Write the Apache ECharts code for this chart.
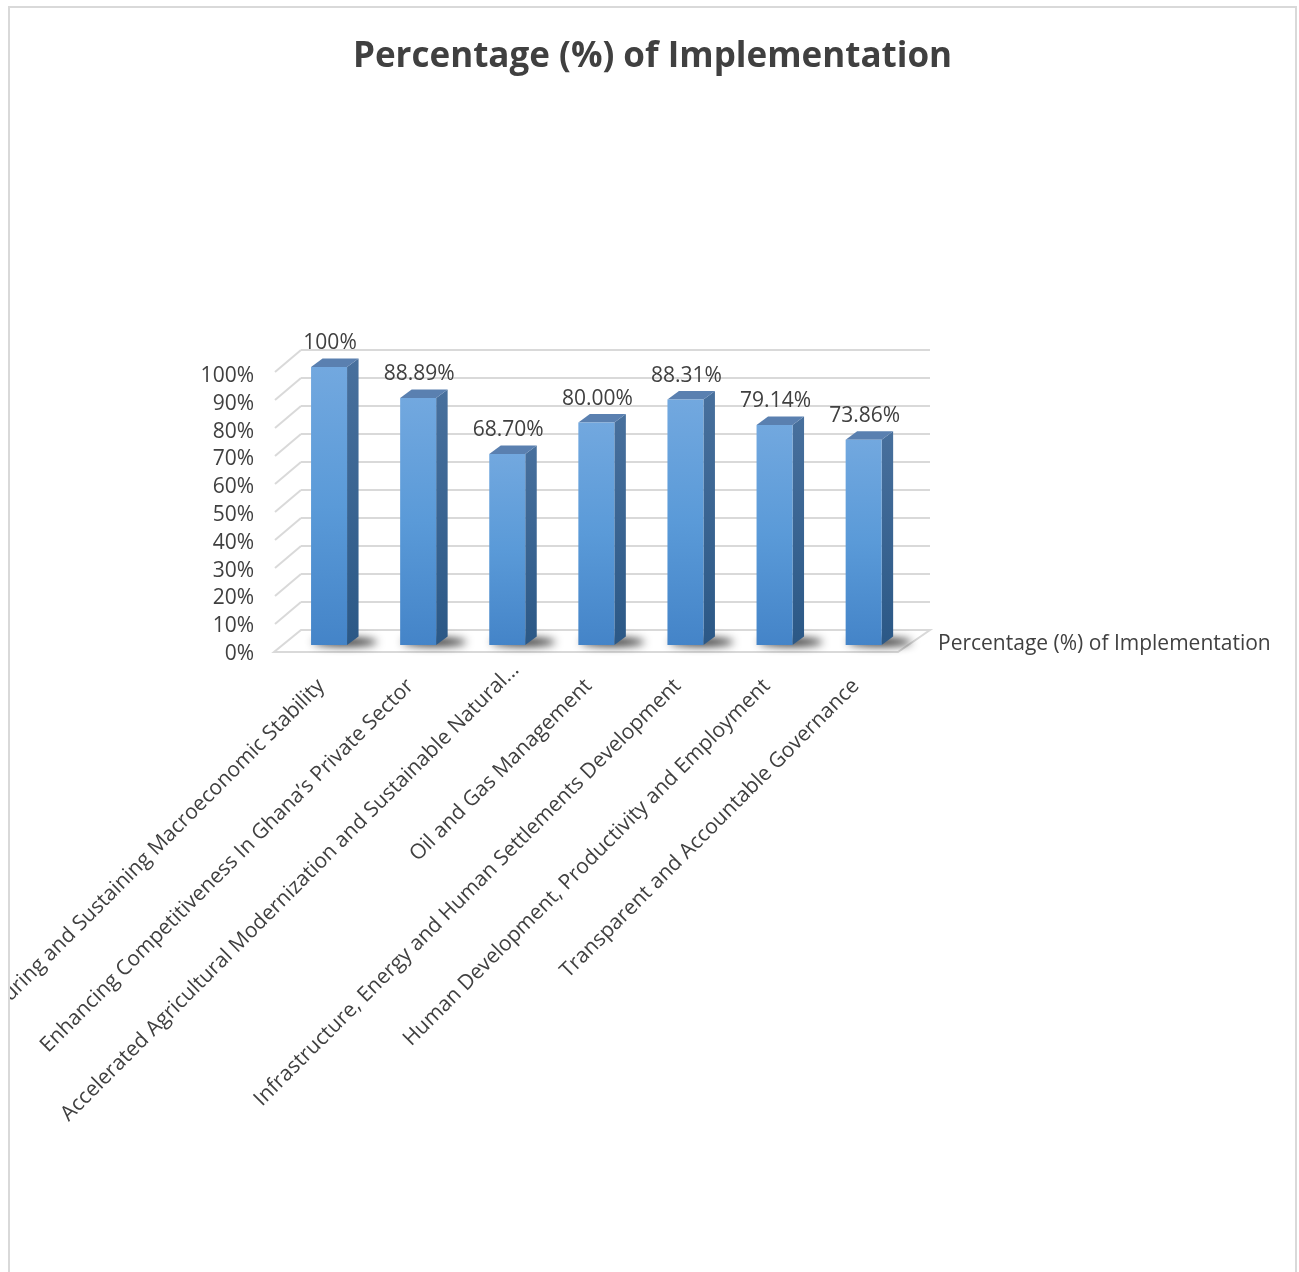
<!DOCTYPE html>
<html>
<head>
<meta charset="utf-8">
<script src="https://cdn.jsdelivr.net/npm/echarts@6/dist/echarts.min.js"></script>
<style>
html,body{margin:0;padding:0;background:#fff;overflow:hidden;}
#frame{position:absolute;left:8px;top:6px;width:1289px;height:1300px;box-sizing:border-box;border:2px solid #d9d9d9;border-bottom:none;overflow:hidden;}
#chart{width:1285px;height:1264px;}
</style>
</head>
<body>
<div id="frame"><div id="chart"></div></div>
<script>
const titleText = 'Percentage (%) of Implementation';
const seriesName = 'Percentage (%) of Implementation';
const categories = [
  'Ensuring and Sustaining Macroeconomic Stability',
  'Enhancing Competitiveness In Ghana\u2019s Private Sector',
  'Accelerated Agricultural Modernization and Sustainable Natural...',
  'Oil and Gas Management',
  'Infrastructure, Energy and Human Settlements Development',
  'Human Development, Productivity and Employment',
  'Transparent and Accountable Governance'
];
const values = [100, 88.89, 68.70, 80.00, 88.31, 79.14, 73.86];
const yTicks = [0, 10, 20, 30, 40, 50, 60, 70, 80, 90, 100];

const FONT = '"Open Sans", "Noto Sans", sans-serif';
const TXT = '#404040';
const GRID_C = '#d9d9d9';

function fmt(v) { return v === 100 ? '100%' : v.toFixed(2) + '%'; }

const frontGrad = new echarts.graphic.LinearGradient(0, 0, 0, 1, [
  {offset: 0, color: '#72a8df'}, {offset: 0.5, color: '#5a9ad8'}, {offset: 1, color: '#4484c8'}
]);
const sideGrad = new echarts.graphic.LinearGradient(0, 0, 0, 1, [
  {offset: 0, color: '#48709d'}, {offset: 1, color: '#2b5886'}
]);

const SHIFT = 3000;
function renderBar(params, api) {
  const i = api.value(0), v = api.value(1);
  const b = api.coord([i, 0]), t = api.coord([i, v]);
  const bw = api.size([1, 0])[0] * 0.404;
  const x0 = b[0] - bw / 2, x1 = b[0] + bw / 2;
  const dx = 11.5, dy = -8.5;
  return {
    type: 'group',
    children: [
      {type: 'ellipse', shape: {cx: x1 - 2 - SHIFT, cy: b[1] - 3, rx: bw / 2 + 14, ry: 4},
       style: {fill: '#000', shadowBlur: 9, shadowOffsetX: SHIFT, shadowColor: 'rgba(0,0,0,0.85)'}},
      {type: 'polygon', shape: {points: [[x1, t[1]], [x1 + dx, t[1] + dy], [x1 + dx, b[1] + dy], [x1, b[1]]]},
       style: {fill: sideGrad}},
      {type: 'polygon', shape: {points: [[x0, t[1]], [x0 + dx, t[1] + dy], [x1 + dx, t[1] + dy], [x1, t[1]]]},
       style: {fill: '#5a80b0'}},
      {type: 'rect', shape: {x: x0, y: t[1], width: bw, height: b[1] - t[1]},
       style: {fill: frontGrad}},
      {type: 'text', style: {text: fmt(v), x: b[0] + 1, y: t[1] - 13, align: 'center', verticalAlign: 'bottom',
       font: '21px ' + FONT, fill: TXT}}
    ]
  };
}

function renderWall(params, api) {
  const v = api.value(1);
  const p = api.coord([0, v]);
  if (v === 0) {
    const r = api.coord([1, 0]);
    return {type: 'polygon', shape: {points: [p, r, [r[0] - 32, r[1] + 22], [p[0] - 27, p[1] + 22]]},
      style: {fill: '#fff', stroke: GRID_C, lineWidth: 2}};
  }
  return {type: 'line', shape: {x1: p[0], y1: p[1], x2: p[0] - 26, y2: p[1] + 22},
    style: {stroke: GRID_C, lineWidth: 2}};
}

// the truncated (ellipsis) label sits a little higher, as in the original
const categoryData = categories.map(c => /\.\.\.$/.test(c)
  ? {value: c, textStyle: {padding: [0, -12, 25, 0]}}
  : c);

const gridBase = {containLabel: false, outerBoundsMode: 'none'};
const chart = echarts.init(document.getElementById('chart'), null, {renderer: 'canvas'});
chart.setOption({
  animation: false,
  backgroundColor: '#fff',
  title: {
    text: titleText, left: 'center', top: 27,
    textStyle: {fontFamily: FONT, fontSize: 35, fontWeight: 'bold', color: TXT}
  },
  legend: {
    data: [{name: seriesName, icon: 'rect'}],
    left: 923, top: 626, padding: 0, itemWidth: 0, itemHeight: 0,
    textStyle: {fontFamily: FONT, fontSize: 21, color: TXT},
    selectedMode: false
  },
  grid: [
    Object.assign({left: 274.5, top: 359, width: 623.7, height: 278}, gridBase),   // bars plane
    Object.assign({left: 265, top: 368, width: 623, height: 278}, gridBase),       // front plane (labels)
    Object.assign({left: 291, top: 342, width: 629, height: 280}, gridBase)        // back wall
  ],
  xAxis: [
    {gridIndex: 0, type: 'category', data: categoryData,
     axisLine: {show: false}, axisTick: {show: false},
     axisLabel: {interval: 0, rotate: 45, margin: 30, padding: [0, 11, 11, 0],
                 fontFamily: FONT, fontSize: 21, color: TXT}},
    {gridIndex: 1, type: 'value', show: false, min: 0, max: 1},
    {gridIndex: 2, type: 'value', show: false, min: 0, max: 1}
  ],
  yAxis: [
    {gridIndex: 0, type: 'value', min: 0, max: 100, interval: 10, show: false},
    {gridIndex: 1, type: 'value', min: 0, max: 100, interval: 10,
     axisLine: {show: false}, axisTick: {show: false}, splitLine: {show: false},
     axisLabel: {formatter: '{value}%', margin: 21, fontFamily: FONT, fontSize: 21, color: TXT}},
    {gridIndex: 2, type: 'value', min: 0, max: 100, interval: 10,
     axisLine: {show: false}, axisTick: {show: false}, axisLabel: {show: false},
     splitLine: {show: true, lineStyle: {color: GRID_C, width: 2}}}
  ],
  series: [
    {type: 'custom', name: 'wall', xAxisIndex: 2, yAxisIndex: 2, z: 1, silent: true,
     renderItem: renderWall, data: yTicks.map(v => [0, v])},
    {type: 'custom', name: seriesName, xAxisIndex: 0, yAxisIndex: 0, z: 3,
     itemStyle: {color: '#5b9bd5'},
     renderItem: renderBar, data: values.map((v, i) => [i, v])}
  ]
});
</script>
</body>
</html>
